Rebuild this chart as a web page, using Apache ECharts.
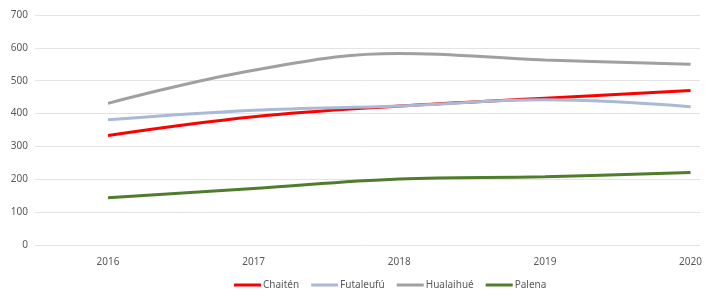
<!DOCTYPE html>
<html>
<head>
<meta charset="utf-8">
<script src="https://cdn.jsdelivr.net/npm/echarts@6/dist/echarts.min.js"></script>
<style>
html,body{margin:0;padding:0;background:#fff;}
#chart{width:705px;height:291px;}
</style>
</head>
<body>
<div id="chart"></div>
<script>
const years=['2016','2017','2018','2019','2020'];
const chaiten=[333,390,423,447,470];
const futaleufu=[381,410,423,442,421];
const hualaihue=[431,532,583,563,550];
const palena=[144,172,201,208,221];
const yTicks=[0,100,200,300,400,500,600,700];

const txt='#595959';
const font='"Noto Sans", sans-serif';

function line(name,data,color){
    return {name:name,type:'line',xAxisIndex:1,yAxisIndex:1,data:data,smooth:0.4,
        symbol:'none',lineStyle:{color:color,width:3},itemStyle:{color:color}};
}

const chart=echarts.init(document.getElementById('chart'));
chart.setOption({
    animation:false,
    backgroundColor:'#fff',
    textStyle:{fontFamily:font},
    grid:[
        {left:35,right:5,top:15,bottom:46},
        {left:108,right:13,top:15,bottom:46}
    ],
    xAxis:[
        {gridIndex:0,type:'category',data:years,show:false},
        {gridIndex:1,type:'category',data:years,boundaryGap:false,
         axisLine:{show:false},axisTick:{show:false},splitLine:{show:false},
         axisLabel:{color:txt,fontSize:10,margin:12}}
    ],
    yAxis:[
        {gridIndex:0,type:'value',min:yTicks[0],max:yTicks[yTicks.length-1],interval:100,
         axisLine:{show:false},axisTick:{show:false},
         axisLabel:{color:txt,fontSize:10,margin:7},
         splitLine:{lineStyle:{color:'#e3e3e3',width:1}}},
        {gridIndex:1,type:'value',min:yTicks[0],max:yTicks[yTicks.length-1],interval:100,show:false,splitLine:{show:false}}
    ],
    legend:{
        top:280,left:234,padding:0,itemWidth:27,itemHeight:3,itemGap:12,icon:'rect',
        textStyle:{color:txt,fontSize:10,padding:[0,0,0,-3]},
        data:['Chaitén','Futaleufú','Hualaihué','Palena']
    },
    series:[
        line('Chaitén',chaiten,'#ff0000'),
        line('Futaleufú',futaleufu,'#a9b9d6'),
        line('Hualaihué',hualaihue,'#a0a0a0'),
        line('Palena',palena,'#4f7d2c')
    ]
});
</script>
</body>
</html>
